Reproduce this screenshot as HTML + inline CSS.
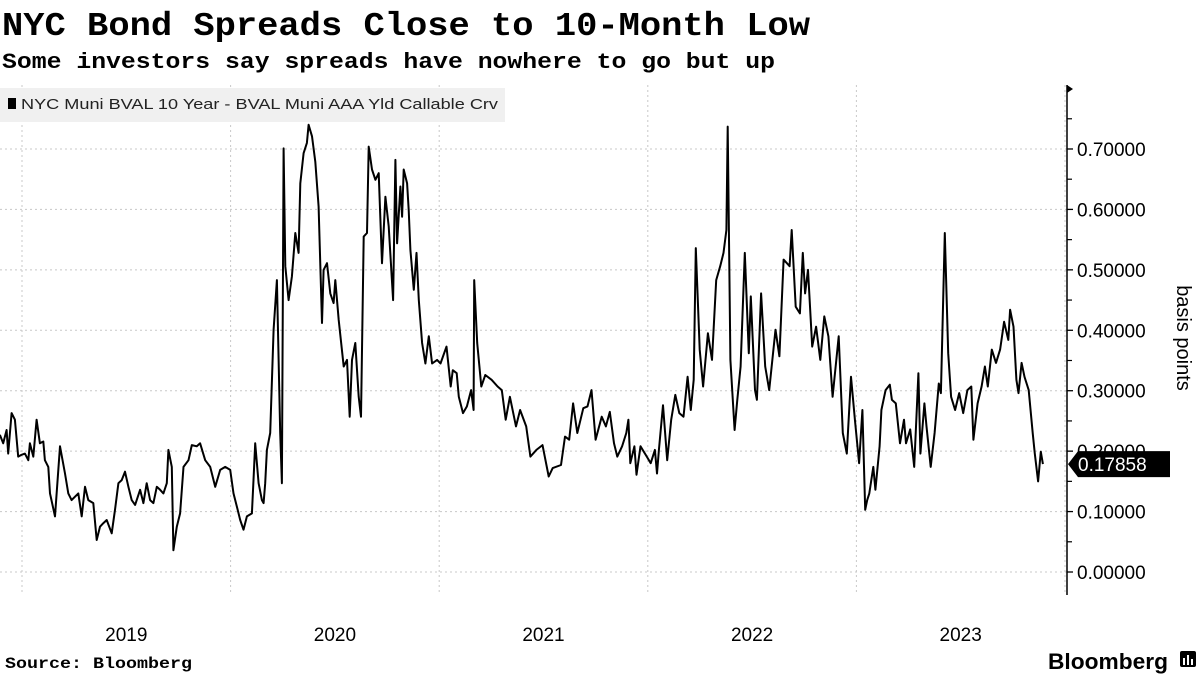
<!DOCTYPE html>
<html><head><meta charset="utf-8"><style>
html,body{margin:0;padding:0;background:#fff;width:1200px;height:675px;overflow:hidden}
svg text{font-family:"Liberation Sans",sans-serif}
.mono{font-family:"Liberation Mono",monospace;font-weight:bold}
</style></head><body>
<svg id="chart" width="1200" height="675" viewBox="0 0 1200 675">
<text class="mono" x="2" y="35" font-size="33" textLength="808" lengthAdjust="spacingAndGlyphs">NYC Bond Spreads Close to 10-Month Low</text>
<text class="mono" x="2" y="68" font-size="22" textLength="773" lengthAdjust="spacingAndGlyphs">Some investors say spreads have nowhere to go but up</text>
<g id="grid"></g>
<g id="axis"></g>
<path id="line" fill="none" stroke="#000" stroke-width="2" stroke-linejoin="round"></path>
<g>
<rect x="0" y="88" width="505" height="34" fill="#f0f0f0"></rect>
<rect x="8" y="98" width="8" height="11" fill="#000"></rect>
<text x="21" y="109" font-size="14.5" fill="#222" textLength="477" lengthAdjust="spacingAndGlyphs">NYC Muni BVAL 10 Year - BVAL Muni AAA Yld Callable Crv</text>
</g>
<g id="tag"></g>
<text transform="translate(1177,338) rotate(90)" text-anchor="middle" font-size="20">basis points</text>
<text class="mono" x="5" y="668" font-size="16" textLength="187" lengthAdjust="spacingAndGlyphs">Source: Bloomberg</text>
<text x="1048" y="669" font-size="22" font-weight="bold" textLength="120" lengthAdjust="spacingAndGlyphs">Bloomberg</text>
<g>
<rect x="1180" y="651" width="16" height="16" rx="2" fill="#000"></rect>
<rect x="1183" y="658" width="2" height="7" fill="#fff"></rect><rect x="1187" y="655" width="2" height="10" fill="#fff"></rect><rect x="1191" y="659" width="2" height="6" fill="#fff"></rect>
</g>
</svg>
<script>
const years=[2018.894,2018.910,2018.926,2018.934,2018.950,2018.966,2018.982,2018.998,2019.014,2019.030,2019.038,2019.054,2019.070,2019.086,2019.102,2019.110,2019.126,2019.134,2019.158,2019.182,2019.206,2019.222,2019.238,2019.270,2019.286,2019.302,2019.318,2019.342,2019.358,2019.374,2019.390,2019.406,2019.430,2019.446,2019.462,2019.478,2019.494,2019.510,2019.526,2019.542,2019.566,2019.582,2019.598,2019.614,2019.630,2019.646,2019.662,2019.678,2019.694,2019.702,2019.718,2019.726,2019.742,2019.758,2019.774,2019.798,2019.814,2019.838,2019.854,2019.878,2019.902,2019.926,2019.950,2019.974,2019.998,2020.014,2020.030,2020.046,2020.062,2020.078,2020.102,2020.110,2020.118,2020.134,2020.150,2020.158,2020.166,2020.174,2020.190,2020.206,2020.222,2020.238,2020.246,2020.254,2020.262,2020.278,2020.294,2020.310,2020.326,2020.334,2020.350,2020.366,2020.374,2020.390,2020.406,2020.422,2020.438,2020.446,2020.462,2020.478,2020.494,2020.502,2020.518,2020.542,2020.558,2020.571,2020.582,2020.598,2020.614,2020.625,2020.638,2020.654,2020.662,2020.678,2020.694,2020.710,2020.726,2020.742,2020.758,2020.779,2020.790,2020.798,2020.814,2020.822,2020.830,2020.846,2020.854,2020.862,2020.878,2020.891,2020.902,2020.918,2020.934,2020.950,2020.966,2020.990,
2021.006,2021.035,2021.055,2021.065,2021.084,2021.094,2021.114,2021.133,2021.153,2021.165,2021.168,2021.182,2021.202,2021.221,2021.251,2021.280,2021.300,2021.319,2021.339,2021.368,2021.388,2021.417,2021.437,2021.466,2021.495,2021.525,2021.544,2021.584,2021.603,2021.623,2021.642,2021.662,2021.691,2021.711,2021.730,2021.750,2021.779,2021.799,2021.818,2021.838,2021.854,2021.877,2021.897,2021.907,2021.916,2021.936,2021.946,2021.965,2021.995,2022.014,2022.034,2022.044,2022.053,2022.073,2022.093,2022.112,2022.132,2022.151,2022.171,2022.191,2022.206,2022.220,2022.230,2022.249,2022.265,2022.288,2022.308,2022.328,2022.347,2022.363,2022.377,2022.383,2022.396,2022.416,2022.429,2022.445,2022.465,2022.484,2022.494,2022.514,2022.523,2022.543,2022.563,2022.582,2022.612,2022.631,2022.651,2022.680,2022.690,2022.709,2022.729,2022.743,2022.754,2022.768,2022.788,2022.807,2022.827,2022.846,2022.866,2022.886,2022.915,2022.935,2022.954,2022.974,2022.993,2023.013,2023.029,2023.042,2023.052,2023.062,2023.081,2023.091,2023.111,2023.120,2023.140,2023.160,2023.170,2023.189,2023.209,2023.228,2023.238,2023.258,2023.277,2023.297,2023.307,2023.326,2023.336,2023.356,2023.375,2023.395,2023.405,2023.424,2023.440,2023.454,2023.473,2023.493,2023.512,2023.532,2023.551,2023.561,2023.581,2023.600,2023.616,2023.630,2023.649,2023.669,2023.689,2023.708,2023.728,2023.737,2023.753,2023.767,2023.777,2023.792,2023.806,2023.826,2023.845,2023.855,2023.871,2023.884,2023.894];
const spreads=[0.227,0.213,0.235,0.196,0.263,0.252,0.191,0.194,0.196,0.185,0.213,0.191,0.252,0.213,0.216,0.185,0.174,0.130,0.092,0.208,0.163,0.130,0.119,0.130,0.092,0.141,0.119,0.114,0.053,0.075,0.081,0.086,0.064,0.103,0.147,0.152,0.166,0.141,0.119,0.111,0.136,0.114,0.147,0.119,0.114,0.141,0.136,0.130,0.147,0.202,0.174,0.036,0.075,0.097,0.174,0.185,0.210,0.208,0.213,0.185,0.174,0.141,0.169,0.174,0.169,0.130,0.108,0.086,0.070,0.092,0.097,0.152,0.213,0.147,0.119,0.114,0.147,0.202,0.230,0.401,0.483,0.230,0.147,0.701,0.506,0.450,0.489,0.561,0.528,0.643,0.693,0.710,0.740,0.721,0.679,0.605,0.412,0.500,0.511,0.461,0.445,0.483,0.417,0.340,0.351,0.257,0.351,0.379,0.290,0.257,0.555,0.561,0.704,0.666,0.649,0.660,0.511,0.621,0.572,0.450,0.682,0.544,0.638,0.588,0.666,0.643,0.599,0.533,0.467,0.528,0.450,0.379,0.345,0.390,0.345,0.351,
0.345,0.373,0.307,0.334,0.329,0.290,0.263,0.274,0.301,0.268,0.483,0.379,0.307,0.326,0.318,0.307,0.301,0.252,0.290,0.241,0.268,0.241,0.191,0.202,0.210,0.158,0.172,0.177,0.224,0.219,0.279,0.230,0.271,0.274,0.301,0.219,0.257,0.241,0.265,0.213,0.191,0.208,0.230,0.252,0.180,0.208,0.161,0.208,0.191,0.180,0.202,0.163,0.202,0.276,0.185,0.252,0.293,0.263,0.257,0.323,0.268,0.318,0.536,0.368,0.307,0.395,0.351,0.483,0.506,0.528,0.566,0.737,0.351,0.235,0.285,0.340,0.528,0.362,0.456,0.301,0.285,0.461,0.340,0.301,0.401,0.357,0.517,0.506,0.566,0.439,0.428,0.528,0.461,0.500,0.373,0.406,0.351,0.423,0.390,0.290,0.390,0.230,0.196,0.323,0.252,0.180,0.268,0.103,0.119,0.130,0.174,0.136,0.208,0.268,0.301,0.310,0.285,0.279,0.213,0.252,0.213,0.236,0.174,0.329,0.196,0.279,0.241,0.174,0.230,0.312,0.296,0.561,0.362,0.290,0.268,0.296,0.263,0.301,0.307,0.219,0.279,0.307,0.340,0.307,0.368,0.346,0.368,0.414,0.384,0.434,0.406,0.318,0.296,0.346,0.323,0.301,0.230,0.196,0.150,0.199,0.1786];
const yTicks=[0,0.1,0.2,0.3,0.4,0.5,0.6,0.7];
const yearLabels=["2019","2020","2021","2022","2023"];
const lastLabel="0.17858";

const NS="http://www.w3.org/2000/svg";
const xS=y=>22+(y-2019)*208.6;
const yS=v=>572-v*604.3;
function mk(tag,attrs,parent){const e=document.createElementNS(NS,tag);for(const k in attrs)e.setAttribute(k,attrs[k]);parent.appendChild(e);return e;}
const grid=document.getElementById('grid'),axis=document.getElementById('axis');
yTicks.forEach(t=>{
  const g=mk('line',{x1:0,x2:1067,y1:yS(t),y2:yS(t),stroke:'#c8c8c8','stroke-dasharray':'2,3'},grid);
  
  
  const tk=mk('line',{x1:1067,x2:1073,y1:yS(t),y2:yS(t),stroke:'#000','stroke-width':1.3},axis);
  
  
  const lb=mk('text',{x:1077,y:yS(t)+7,'font-size':19},axis);
  lb.textContent=t.toFixed(5);
  
  
});
for(let t=0.05;t<0.8;t+=0.1){
  const m=mk('line',{x1:1067,x2:1072,y1:yS(t),y2:yS(t),stroke:'#000','stroke-width':1.2},axis);
  
  
}
mk('line',{x1:1067,x2:1067,y1:85,y2:595,stroke:'#000','stroke-width':1.5},axis);
mk('path',{d:'M1067,85 L1073,89 L1067,93 Z',fill:'#000'},axis);
yearLabels.forEach((lab,i)=>{
  const yr=2019+i;
  const gl=mk('line',{x1:xS(yr),x2:xS(yr),y1:85,y2:595,stroke:'#c8c8c8','stroke-dasharray':'2,3'},grid);
  
  
  const tx=mk('text',{x:xS(yr+0.5),y:641,'font-size':19,'text-anchor':'middle'},grid);
  tx.textContent=lab;
  
  
});
mk('line',{x1:xS(2024),x2:xS(2024),y1:85,y2:595,stroke:'#c8c8c8','stroke-dasharray':'2,3'},grid);
let d='';
years.forEach((y,i)=>{d+=(i?'L':'M')+xS(y).toFixed(1)+','+yS(spreads[i]).toFixed(1);});
document.getElementById('line').setAttribute('d',d);
const tag=document.getElementById('tag');
const ly=yS(spreads[spreads.length-1]);
mk('path',{d:`M1068,${ly} L1078,${ly-13} L1170,${ly-13} L1170,${ly+13} L1078,${ly+13} Z`,fill:'#000'},tag);
const tt=mk('text',{x:1078,y:ly+7,'font-size':19,fill:'#fff'},tag);
tt.textContent=lastLabel;


</script>
</body></html>
